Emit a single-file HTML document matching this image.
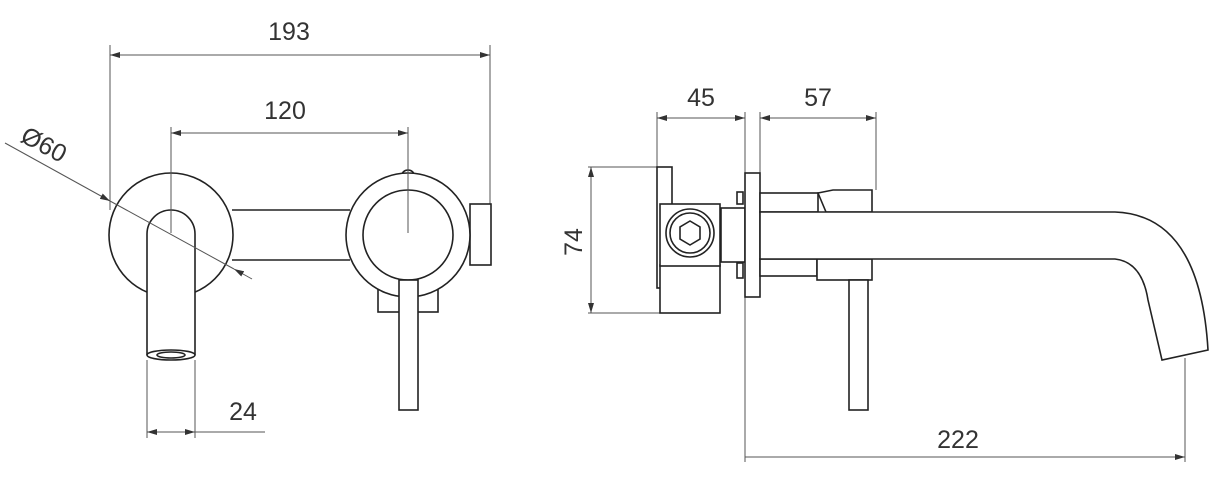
<!DOCTYPE html>
<html><head><style>
html,body{margin:0;padding:0;background:#fff;}
svg{display:block;}
text{font-family:"Liberation Sans",sans-serif;font-size:25px;fill:#333;}
</style></head><body>
<svg width="1220" height="478" viewBox="0 0 1220 478" xmlns="http://www.w3.org/2000/svg">
<defs>
<marker id="a" viewBox="0 0 10 6" refX="10" refY="3" markerWidth="10" markerHeight="6" orient="auto-start-reverse" markerUnits="userSpaceOnUse"><path d="M0,0 L10,3 L0,6 Z" fill="#333"/></marker>
</defs>
<g stroke="#555" stroke-width="1" fill="none">
<line x1="110" y1="45" x2="110" y2="210"/>
<line x1="490" y1="45" x2="490" y2="265"/>
<line x1="110" y1="55" x2="490" y2="55" marker-start="url(#a)" marker-end="url(#a)"/>
<line x1="147" y1="360" x2="147" y2="438"/>
<line x1="195" y1="360" x2="195" y2="438"/>
<line x1="147" y1="432" x2="195" y2="432" marker-start="url(#a)" marker-end="url(#a)"/>
<line x1="195" y1="432" x2="265" y2="432"/>
<line x1="657" y1="112" x2="657" y2="168"/>
<line x1="745" y1="112" x2="745" y2="462"/>
<line x1="760" y1="112" x2="760" y2="175"/>
<line x1="876" y1="112" x2="876" y2="190"/>
<line x1="657" y1="118" x2="745" y2="118" marker-start="url(#a)" marker-end="url(#a)"/>
<line x1="760" y1="118" x2="876" y2="118" marker-start="url(#a)" marker-end="url(#a)"/>
<line x1="588" y1="167" x2="662" y2="167"/>
<line x1="588" y1="313" x2="662" y2="313"/>
<line x1="591" y1="167" x2="591" y2="313" marker-start="url(#a)" marker-end="url(#a)"/>
<line x1="1185" y1="358" x2="1185" y2="462"/>
<line x1="745" y1="457" x2="1185" y2="457" marker-end="url(#a)"/>
</g>
<g stroke="#222" stroke-width="1.6" fill="#fff">
<path d="M232,210 H350 M232,260 H350"/>
<circle cx="171" cy="235" r="62"/>
<path d="M147,355 V234 A24,24 0 0 1 195,234 V355" />
<ellipse cx="171" cy="355" rx="24" ry="5"/>
<ellipse cx="171" cy="355" rx="14" ry="3"/>
<rect x="470" y="204" width="21" height="61"/>
<rect x="378" y="280" width="60" height="32"/>
<path d="M402,175 a6,5 0 0 1 12,0" />
<circle cx="408" cy="235" r="62"/>
<circle cx="408" cy="235" r="45"/>
<rect x="399" y="280" width="19" height="130"/>
<rect x="657" y="167" width="15" height="121"/>
<rect x="660" y="265" width="60" height="48"/>
<rect x="660" y="204" width="60" height="62"/>
<circle cx="690" cy="233" r="24"/>
<circle cx="690" cy="233" r="20"/>
<polygon points="690,221 700,227 700,239 690,245 680,239 680,227"/>
<rect x="721" y="208" width="24" height="54"/>
<rect x="737" y="192" width="6" height="12"/>
<rect x="737" y="263" width="6" height="15"/>
<rect x="745" y="173" width="15" height="124"/>
<rect x="760" y="193" width="58" height="19"/>
<path d="M818,193 L833,190 H872 V212 H826 Z"/>
<rect x="760" y="259" width="57" height="17"/>
<rect x="817" y="259" width="55" height="21"/>
<path d="M760,212 H1115 Q1200,215 1208,350 L1162,360 L1148,300 Q1142,262 1115,259 H760 Z"/>
<rect x="849" y="280" width="19" height="130"/>
</g>
<g stroke="#555" stroke-width="1" fill="none">
<line x1="171" y1="127" x2="171" y2="233"/>
<line x1="408" y1="127" x2="408" y2="233"/>
<line x1="171" y1="133" x2="408" y2="133" marker-start="url(#a)" marker-end="url(#a)"/>
<line x1="5" y1="143" x2="110" y2="201" marker-end="url(#a)"/>
<line x1="110" y1="201" x2="234" y2="269"/>
<line x1="252" y1="279" x2="234" y2="269" marker-end="url(#a)"/>
</g>
<text x="289" y="40" text-anchor="middle">193</text>
<text x="285" y="119" text-anchor="middle">120</text>
<text x="243" y="420" text-anchor="middle">24</text>
<text transform="translate(40,152) rotate(28)" text-anchor="middle">Ø60</text>
<text x="701" y="106" text-anchor="middle">45</text>
<text x="818" y="106" text-anchor="middle">57</text>
<text transform="translate(582,242) rotate(-90)" text-anchor="middle">74</text>
<text x="958" y="448" text-anchor="middle">222</text>
</svg>
</body></html>
